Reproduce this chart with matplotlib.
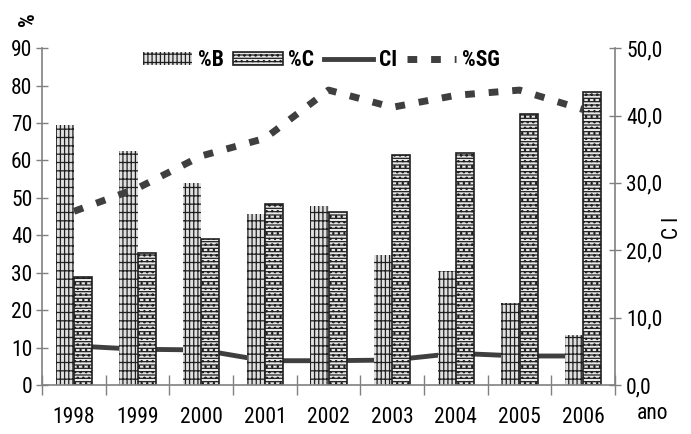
import numpy as np
import matplotlib.pyplot as plt

plt.rcParams['font.family'] = ['Roboto Condensed', 'Archivo Narrow', 'Liberation Sans', 'DejaVu Sans']
plt.rcParams['hatch.linewidth'] = 0.9

anos = ['1998', '1999', '2000', '2001', '2002', '2003', '2004', '2005', '2006']
pct_b = [69.5, 62.6, 54.0, 45.7, 47.8, 34.8, 30.5, 21.8, 13.4]
pct_c = [28.8, 35.2, 39.0, 48.4, 46.2, 61.5, 62.0, 72.3, 78.2]
pct_sg = [46.4, 52.6, 61.2, 65.9, 78.8, 74.2, 77.4, 78.8, 73.6]
ci = [5.8, 5.3, 5.2, 3.6, 3.6, 3.7, 4.7, 4.3, 4.3]

x = np.arange(len(anos))
w = 0.285
grey = '#3f3f3f'
axis_grey = '#808080'
fs = 15.5

fig, ax = plt.subplots(figsize=(6.91, 4.34), dpi=100)
fig.subplots_adjust(left=0.061, right=0.89, top=0.889, bottom=0.113)
ax2 = ax.twinx()

bars_b = ax.bar(x - w / 2, pct_b, w, facecolor='#e0e0e0', edgecolor='#202020',
                linewidth=0, hatch='||++', label='%B')
bars_c = ax.bar(x + w / 2, pct_c, w, facecolor='#e8e8e8', edgecolor='#202020',
                linewidth=1.2, hatch='-----...', label='%C')
line_ci, = ax2.plot(x, ci, color=grey, lw=3.5, label='CI')
line_sg, = ax.plot(x, pct_sg, color=grey, lw=5, linestyle=(0, (1.4, 2.0)),
                   dash_capstyle='butt', label='%SG')

ax.set_xlim(-0.5, len(anos) - 0.5)
ax.set_ylim(0, 90)
ax.set_yticks(np.arange(0, 91, 10))
ax2.set_ylim(0, 50)
ax2.set_yticks(np.arange(0, 51, 10))
ax2.set_yticklabels([f'{v:.1f}'.replace('.', ',') for v in range(0, 51, 10)])

# category ticks sit on the boundaries between years
ax.set_xticks(np.arange(-0.5, len(anos), 1.0))
ax.set_xticklabels([])
ax.set_xticks(x, minor=True)
ax.set_xticklabels(anos, minor=True)
ax.tick_params(axis='x', which='minor', length=0, pad=16, labelsize=fs)
ax.tick_params(axis='x', which='major', direction='inout', length=14, width=1, color=axis_grey)
ax.tick_params(axis='y', direction='inout', length=8, width=1, color=axis_grey, labelsize=fs, pad=3)
ax2.tick_params(axis='y', direction='inout', length=8, width=1, color=axis_grey, labelsize=fs, pad=4)

for a in (ax, ax2):
    for side in ('top', 'right', 'left', 'bottom'):
        a.spines[side].set_visible(False)
ax.spines['left'].set_visible(True)
ax.spines['bottom'].set_visible(True)
ax2.spines['right'].set_visible(True)
for s in (ax.spines['left'], ax.spines['bottom'], ax2.spines['right']):
    s.set_color(axis_grey)
    s.set_linewidth(1.2)

fig.text(0.041, 0.955, '%', rotation=90, fontsize=fs, fontweight='bold', ha='center', va='center')
fig.text(0.921, 0.048, 'ano', fontsize=fs, ha='left', va='center')
fig.text(0.973, 0.475, 'C I', fontsize=fs, rotation=90, ha='center', va='center')

leg = ax.legend(handles=[bars_b, bars_c, line_ci, line_sg], loc='upper center',
                bbox_to_anchor=(0.487, 1.055), ncol=4, frameon=False,
                prop={'weight': 'bold', 'size': fs}, handlelength=2.3,
                handleheight=0.6, handletextpad=0.25, columnspacing=0.45)
ax.set_zorder(ax2.get_zorder() + 1)
ax.patch.set_visible(False)

fig.savefig('out.png', dpi=100)
